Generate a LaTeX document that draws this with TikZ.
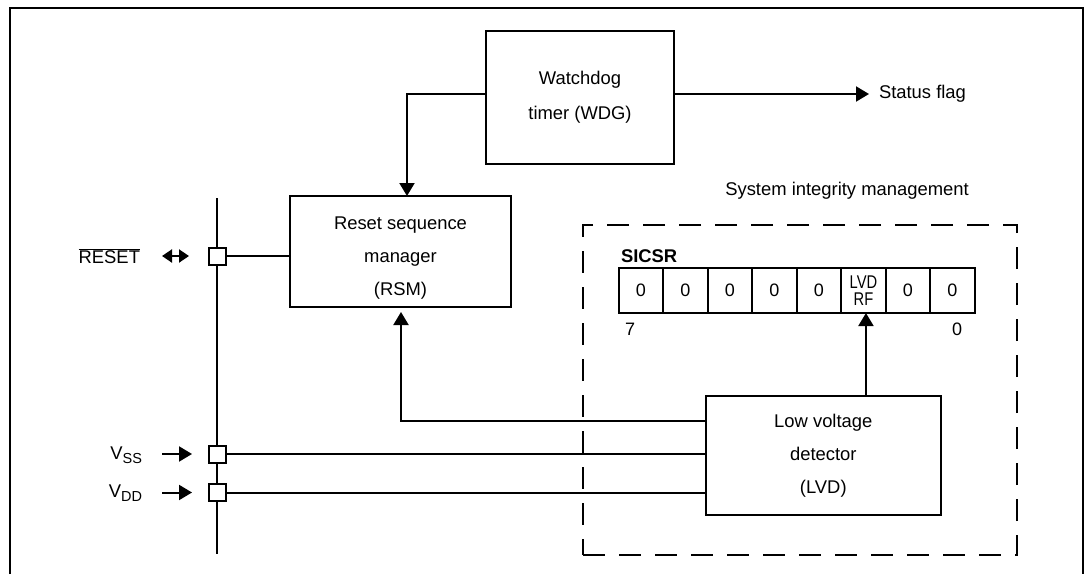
\documentclass[tikz,border=0pt]{standalone}
\usepackage{fontspec}
\setmainfont{Liberation Sans}
\usetikzlibrary{arrows.meta,positioning}
\begin{document}
\begin{tikzpicture}[x=1pt,y=-1pt,line width=2pt,
  txt/.style={font=\fontsize{18.4}{33}\selectfont, align=center, inner sep=0pt},
  blk/.style={draw, line width=2pt, inner sep=0pt, outer sep=0pt, anchor=north west},
  cell/.style={draw, line width=2pt, inner sep=0pt, outer sep=0pt, minimum width=44.5pt, minimum height=45pt, font=\fontsize{18}{16.5}\selectfont, align=center},
  pinbox/.style={draw, fill=white, line width=2pt, inner sep=0pt, outer sep=0pt, minimum size=17pt},
  arr/.style={-{Triangle[length=13pt,width=15pt]}},
  darr/.style={{Triangle[length=10pt,width=13pt]}-{Triangle[length=10pt,width=13pt]}},
  simbox/.style={draw, line width=2pt, dash pattern=on 22pt off 14pt, inner sep=0pt, outer sep=0pt, anchor=north west}
]
\useasboundingbox (0,0) rectangle (1086,574);

% outer frame
\coordinate (fa) at (10,574);
\coordinate (fb) at (10,8);
\coordinate (fc) at (1083,8);
\coordinate (fd) at (1083,574);
\draw (fa) -- (fb) -- (fc) -- (fd);

% blocks
\node[blk, minimum width=188pt, minimum height=133pt, txt, font=\fontsize{18.4}{35}\selectfont] (wdg) at (486,31) {Watchdog\\timer (WDG)};
\node[blk, minimum width=221pt, minimum height=111pt] (rsm) at (290,196) {};
\node[txt] (rsmt) at ([yshift=-7pt]rsm.center) {Reset sequence\\manager\\(RSM)};
\node[simbox, minimum width=434pt, minimum height=330pt] (sim) at (583,225) {};
\node[txt] (simt) at (847,191) {System integrity management};
\node[blk, minimum width=235.4pt, minimum height=119pt, txt] (lvd) at (705.6,396) {Low voltage\\detector\\(LVD)};

% register
\node[txt, anchor=west, font=\bfseries\fontsize{18.4}{22}\selectfont] (sicsr) at (620,256) {SICSR};
\node[cell, anchor=north west] (c1) at (618.7,268) {0};
\node[cell, right=0pt of c1] (c2) {0};
\node[cell, right=0pt of c2] (c3) {0};
\node[cell, right=0pt of c3] (c4) {0};
\node[cell, right=0pt of c4] (c5) {0};
\node[cell, right=0pt of c5, font=\fontsize{18.4}{17}\selectfont] (c6) {\scalebox{0.8}[1]{LVD}\\\scalebox{0.8}[1]{RF}};
\node[cell, right=0pt of c6] (c7) {0};
\node[cell, right=0pt of c7] (c8) {0};
\node[txt, font=\fontsize{18}{22}\selectfont] (b7) at (630,329) {7};
\node[txt, font=\fontsize{18}{22}\selectfont] (b0) at (957,329) {0};

% bus and pins
\coordinate (bustop) at (217,198);
\coordinate (busbot) at (217,554);
\draw (bustop) -- (busbot);
\node[pinbox] (prst) at (217,256) {};
\node[pinbox] (pvss) at (217,454) {};
\node[pinbox] (pvdd) at (217,492.5) {};

% pin labels
\node[txt, anchor=east, font=\fontsize{18.4}{22}\selectfont] (rstl) at (141,256) {$\overline{\mbox{RESET}}$};
\node[txt, anchor=east] (vssl) at (143,455) {V\raisebox{-4pt}{\fontsize{14.5}{16}\selectfont SS}};
\node[txt, anchor=east] (vddl) at (143,493) {V\raisebox{-4pt}{\fontsize{14.5}{16}\selectfont DD}};

\draw[darr] ([xshift=21pt]rstl.east) -- ([xshift=-19.5pt]prst.west);
\draw[arr] ([xshift=-46.5pt]pvss.west) -- ([xshift=-16.5pt]pvss.west);
\draw[arr] ([xshift=-46.5pt]pvdd.west) -- ([xshift=-16.5pt]pvdd.west);

% connections
\draw (prst.east) -- (prst.east -| rsm.west);
\draw (pvss.east) -- (pvss.east -| lvd.west);
\draw (pvdd.east) -- (pvdd.east -| lvd.west);
\draw[arr] ([yshift=3.5pt]wdg.west) -| ([xshift=6.5pt]rsm.north);
\node[txt, anchor=west] (flag) at (878,94) {Status flag};
\draw[arr, shorten >=9pt] ([yshift=3.5pt]wdg.east) -- (flag.west |- 0,94);
\draw[arr, shorten >=5pt] ([yshift=34.5pt]lvd.west) -| ([xshift=0.5pt]rsm.south);
\draw[arr] ([xshift=2.5pt]c6.south |- lvd.north) -- ([xshift=2.5pt]c6.south);
\end{tikzpicture}
\end{document}
